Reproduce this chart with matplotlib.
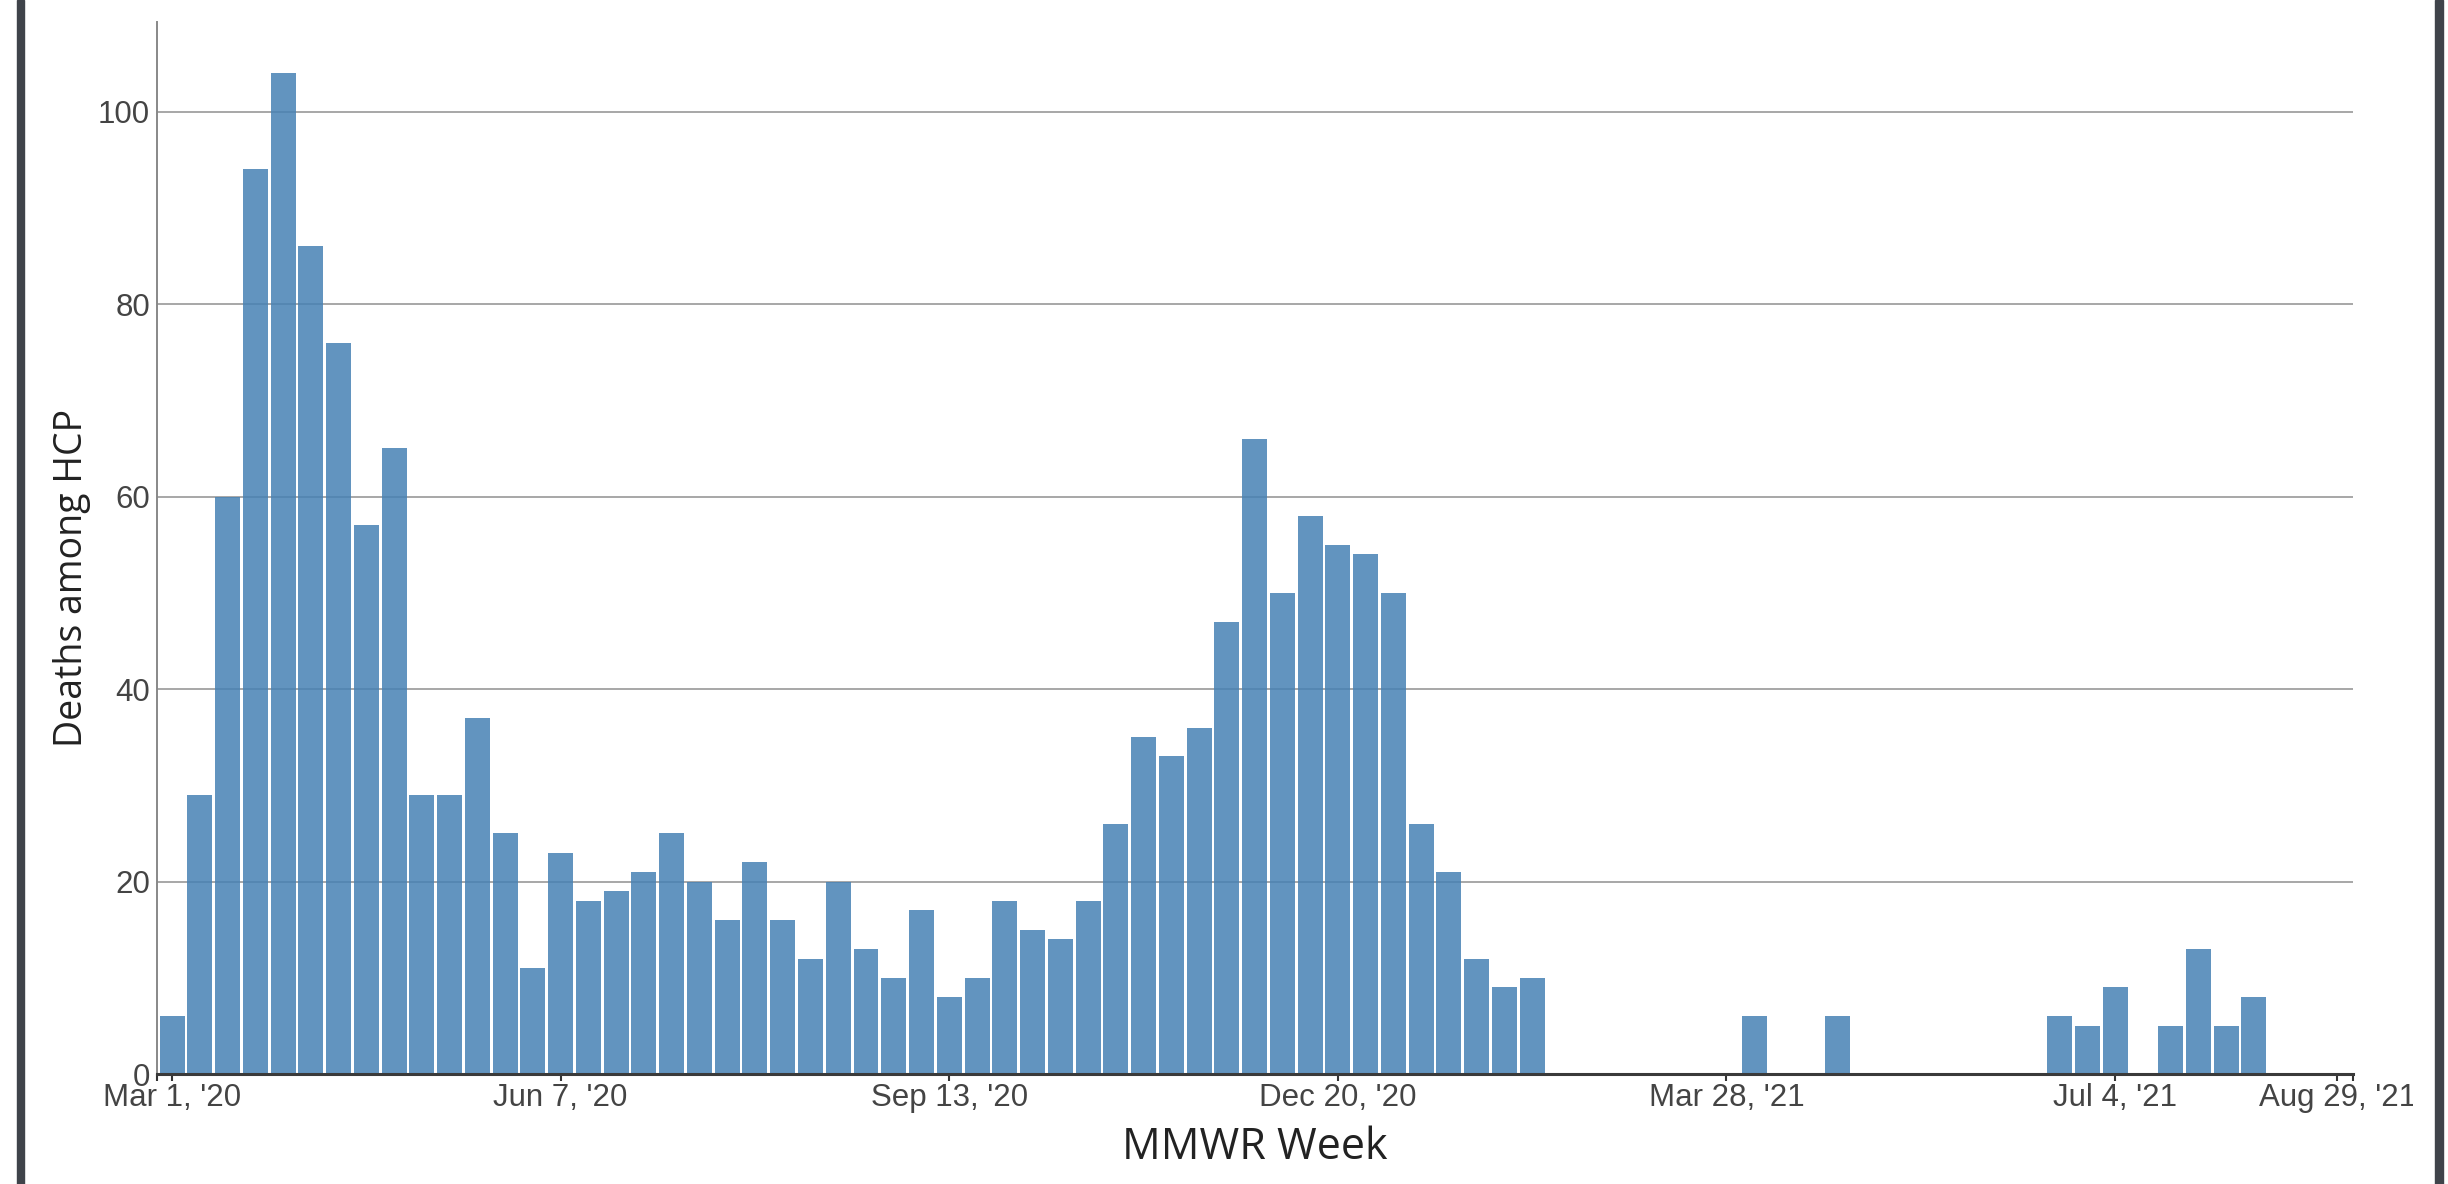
import pandas as pd
import matplotlib
matplotlib.use("Agg")
import matplotlib.pyplot as plt
from matplotlib.patches import Rectangle
from matplotlib.transforms import Bbox

# weekly deaths among HCP, one value per MMWR week starting Mar 1, 2020
first_week = "2020-03-01"
deaths = [6, 29, 60, 94, 104, 86, 76, 57, 65, 29,
          29, 37, 25, 11, 23, 18, 19, 21, 25, 20,
          16, 22, 16, 12, 20, 13, 10, 17, 8, 10,
          18, 15, 14, 18, 26, 35, 33, 36, 47, 66,
          50, 58, 55, 54, 50, 26, 21, 12, 9, 10,
          0, 0, 0, 0, 0, 0, 0, 6, 0, 0,
          6, 0, 0, 0, 0, 0, 0, 0, 6, 5,
          9, 0, 5, 13, 5, 8, 0, 0, 0]

tick_dates = ["2020-03-01", "2020-06-07", "2020-09-13", "2020-12-20",
              "2021-03-28", "2021-07-04", "2021-08-29"]
tick_labels = ["Mar 1, '20", "Jun 7, '20", "Sep 13, '20", "Dec 20, '20",
               "Mar 28, '21", "Jul 4, '21", "Aug 29, '21"]
y_ticks = [0, 20, 40, 60, 80, 100]

weeks = pd.date_range(first_week, periods=len(deaths), freq="7D")

W, H = 2448, 1184
fig = plt.figure(figsize=(W / 100, H / 100), dpi=100)

# plot area in pixels (left, right, top, bottom)
px_l, px_r, px_t, px_b = 157, 2353, 22, 1074
ax = fig.add_axes([px_l / W, 1 - px_b / H, (px_r - px_l) / W, (px_b - px_t) / H])

ax.bar(weeks, deaths, width=6.3, color="steelblue", alpha=0.85, linewidth=0, zorder=2)

start = pd.Timestamp(tick_dates[0])
end = pd.Timestamp(tick_dates[-1])
x0 = start - pd.Timedelta(days=3.8)
x1 = end + pd.Timedelta(days=4.0)
ax.set_xlim(x0, x1)
ax.set_ylim(0, 109.3)

ax.set_xticks(pd.to_datetime(tick_dates))
ax.set_xticklabels(tick_labels)
ax.set_xticks([x0, x1], minor=True)
ax.set_yticks(y_ticks)

tick_family = ["Liberation Sans", "DejaVu Sans"]
for lab in ax.get_xticklabels() + ax.get_yticklabels():
    lab.set_fontfamily(tick_family)
    lab.set_fontsize(22.5)
    lab.set_color("#444444")

ax.tick_params(axis="x", which="both", length=5, width=1.5, color="#333333", pad=1.5)
ax.tick_params(axis="y", length=0, pad=5)

# the last date label just touches the edge of the chart area
clip = Bbox.from_extents(0, 0, 2413, H)
last = ax.get_xticklabels()[-1]
last.set_clip_on(True)
last.set_clip_box(clip)

ax.yaxis.grid(True, color="#a0a0a0", linewidth=1.3, zorder=1)
ax.set_axisbelow(True)

for s in ["top", "right"]:
    ax.spines[s].set_visible(False)
ax.spines["left"].set_color("#888888")
ax.spines["left"].set_linewidth(1.4)
ax.spines["bottom"].set_color("#3a3a3a")
ax.spines["bottom"].set_linewidth(2.2)

label_font = ["Open Sans", "DejaVu Sans"]
ax.set_xlabel("MMWR Week", fontsize=31, family=label_font, color="#222222")
ax.xaxis.set_label_coords(0.5, -0.049)
ax.set_ylabel("Deaths among HCP", fontsize=27, family=label_font, color="#222222")
ax.yaxis.set_label_coords(-0.030, 0.472)

# dark frame edges of the screenshot
fig.add_artist(Rectangle((17 / W, 0), 7 / W, 1, transform=fig.transFigure,
                         color="#3f434a", zorder=5))
fig.add_artist(Rectangle((2435 / W, 0), 8 / W, 1, transform=fig.transFigure,
                         color="#3f434a", zorder=5))

fig.savefig("out.png", dpi=100)
